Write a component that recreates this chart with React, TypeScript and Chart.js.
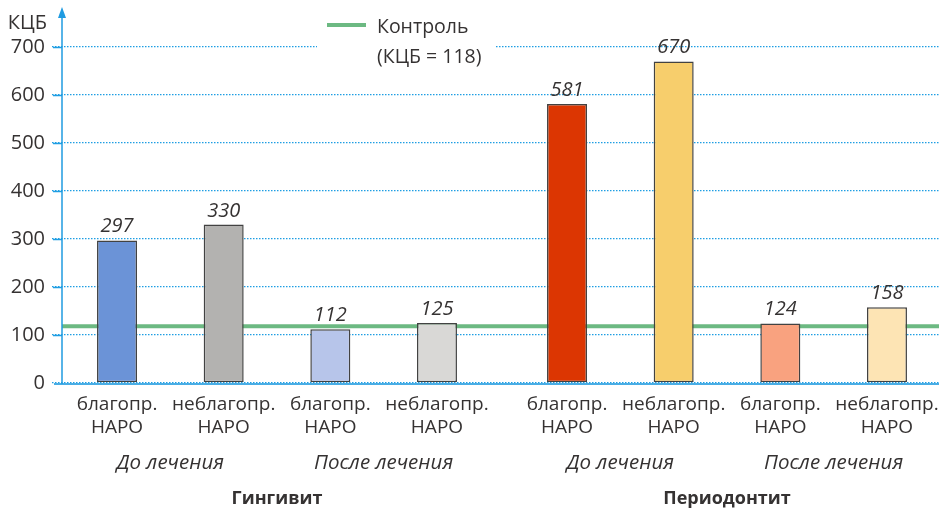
import React, { useEffect, useRef } from 'react';
import { Chart, registerables } from 'chart.js';

Chart.register(...registerables);

// ---- data ----
const categories = ['Гингивит', 'Периодонтит'];
const stageLabels = ['До лечения', 'После лечения'];
const barLabels = ['благопр.', 'неблагопр.', 'благопр.', 'неблагопр.'];
const barSubLabel = 'НАРО';
const favBefore = [297, 581];
const unfavBefore = [330, 670];
const favAfter = [112, 124];
const unfavAfter = [125, 158];
const yMin = 0;
const yMax = 700;
const yStep = 100;
const yTitle = 'КЦБ';
const controlValue = 118;
const controlLegend = ['Контроль', '(КЦБ = 118)'];

// ---- styles ----
const FONT = "'Open Sans', 'Noto Sans', sans-serif";
const TEXT = '#353232';
const AXIS = '#1f9be1';
const GRID = '#1f9ee3';
const GREEN = '#6cb982';
const BORDER = '#424242';
const AXIS_X = 62;
const colors = [
  ['#6b93d7', '#dc3602'],
  ['#b3b2b0', '#f7ce6c'],
  ['#b7c5ea', '#f9a27f'],
  ['#d9d8d6', '#fde4b4'],
];

const decorPlugin = {
  id: 'decor',
  beforeDatasetsDraw(chart: any) {
    const { ctx } = chart;
    const y = chart.scales.y;
    const y0 = y.getPixelForValue(0);
    ctx.save();
    // tick marks (solid)
    ctx.strokeStyle = GRID;
    ctx.lineWidth = 1.5;
    for (let v = yMin + yStep; v <= yMax; v += yStep) {
      const py = Math.round(y.getPixelForValue(v)) + 0.5;
      ctx.beginPath();
      ctx.moveTo(53, py);
      ctx.lineTo(AXIS_X, py);
      ctx.stroke();
    }
    // control line
    const gy = y.getPixelForValue(controlValue);
    ctx.strokeStyle = GREEN;
    ctx.lineWidth = 4;
    ctx.beginPath();
    ctx.moveTo(AXIS_X, gy);
    ctx.lineTo(chart.width, gy);
    ctx.stroke();
    // x axis
    ctx.strokeStyle = '#48ade5';
    ctx.lineWidth = 2;
    ctx.beginPath();
    ctx.moveTo(54, y0 + 1);
    ctx.lineTo(chart.width, y0 + 1);
    ctx.stroke();
    // y axis with arrow
    ctx.strokeStyle = AXIS;
    ctx.lineWidth = 1.5;
    ctx.beginPath();
    ctx.moveTo(AXIS_X, y0 + 1);
    ctx.lineTo(AXIS_X, 16);
    ctx.stroke();
    ctx.fillStyle = AXIS;
    ctx.beginPath();
    ctx.moveTo(AXIS_X, 7);
    ctx.lineTo(AXIS_X - 4, 18);
    ctx.lineTo(AXIS_X + 4, 18);
    ctx.closePath();
    ctx.fill();
    ctx.restore();
  },
  afterDatasetsDraw(chart: any) {
    const { ctx } = chart;
    const y = chart.scales.y;
    const y0 = y.getPixelForValue(0);
    ctx.save();
    ctx.fillStyle = TEXT;
    ctx.textAlign = 'center';
    ctx.textBaseline = 'alphabetic';
    const metas = chart.data.datasets.map((_: any, i: number) => chart.getDatasetMeta(i));
    metas.forEach((meta: any, di: number) => {
      meta.data.forEach((bar: any, ci: number) => {
        const v = chart.data.datasets[di].data[ci];
        ctx.font = `italic 20px ${FONT}`;
        ctx.fillText(String(v), bar.x, bar.y - 8);
        ctx.font = `19px ${FONT}`;
        ctx.fillText(barLabels[di], bar.x, y0 + 27);
        ctx.fillText(barSubLabel, bar.x, y0 + 50);
      });
    });
    // stage labels
    ctx.font = `italic 20.5px ${FONT}`;
    for (let ci = 0; ci < categories.length; ci++) {
      for (let s = 0; s < stageLabels.length; s++) {
        const a = metas[s * 2].data[ci];
        const b = metas[s * 2 + 1].data[ci];
        ctx.fillText(stageLabels[s], (a.x + b.x) / 2, y0 + 86);
      }
    }
    ctx.restore();
  },
  afterDraw(chart: any) {
    const { ctx } = chart;
    ctx.save();
    // legend
    ctx.fillStyle = '#ffffff';
    ctx.fillRect(317, 38, 178, 32);
    ctx.strokeStyle = GREEN;
    ctx.lineWidth = 4;
    ctx.beginPath();
    ctx.moveTo(327, 25);
    ctx.lineTo(366, 25);
    ctx.stroke();
    ctx.fillStyle = TEXT;
    ctx.font = `19.5px ${FONT}`;
    ctx.textAlign = 'left';
    ctx.textBaseline = 'alphabetic';
    ctx.fillText(controlLegend[0], 377, 33);
    ctx.fillText(controlLegend[1], 377, 63);
    // y title
    ctx.font = `20px ${FONT}`;
    ctx.textAlign = 'right';
    ctx.fillText(yTitle, 47, 29);
    ctx.restore();
  },
};

export default function App() {
  const ref = useRef<HTMLCanvasElement>(null);
  useEffect(() => {
    if (!ref.current) return;
    const mk = (data: number[], i: number, label: string) => ({
      label,
      data,
      backgroundColor: colors[i],
      borderColor: BORDER,
      borderWidth: 1.5,
      borderSkipped: false,
      barPercentage: 0.375,
      categoryPercentage: 0.948,
    });
    const chart = new Chart(ref.current, {
      type: 'bar',
      data: {
        labels: categories,
        datasets: [
          mk(favBefore, 0, 'благопр. до'),
          mk(unfavBefore, 1, 'неблагопр. до'),
          mk(favAfter, 2, 'благопр. после'),
          mk(unfavAfter, 3, 'неблагопр. после'),
        ],
      },
      options: {
        responsive: false,
        animation: false,
        layout: { padding: { top: 47, right: 0, left: 0, bottom: 0 } },
        plugins: { legend: { display: false }, tooltip: { enabled: false }, title: { display: false } },
        scales: {
          x: {
            grid: { display: false, drawTicks: false },
            border: { display: false },
            ticks: {
              color: TEXT,
              font: { family: FONT, size: 18, weight: 'bold' },
              padding: 105,
              maxRotation: 0,
            },
            afterFit(scale: any) {
              scale.height = 129;
            },
          },
          y: {
            min: yMin,
            max: yMax,
            grid: { color: GRID, lineWidth: 1.3, drawTicks: false },
            border: { display: false, dash: [1.5, 1.5] },
            ticks: {
              stepSize: yStep,
              color: TEXT,
              font: { family: FONT, size: 20 },
              padding: 7,
            },
            afterFit(scale: any) {
              scale.width = 52;
            },
          },
        },
      },
      plugins: [decorPlugin],
    } as any);
    return () => chart.destroy();
  }, []);
  return (
    <div style={{ position: 'absolute', left: 0, top: 0, width: 939, height: 512, overflow: 'hidden', background: '#fff' }}>
      <canvas ref={ref} width={952} height={512} style={{ display: 'block' }} />
    </div>
  );
}
